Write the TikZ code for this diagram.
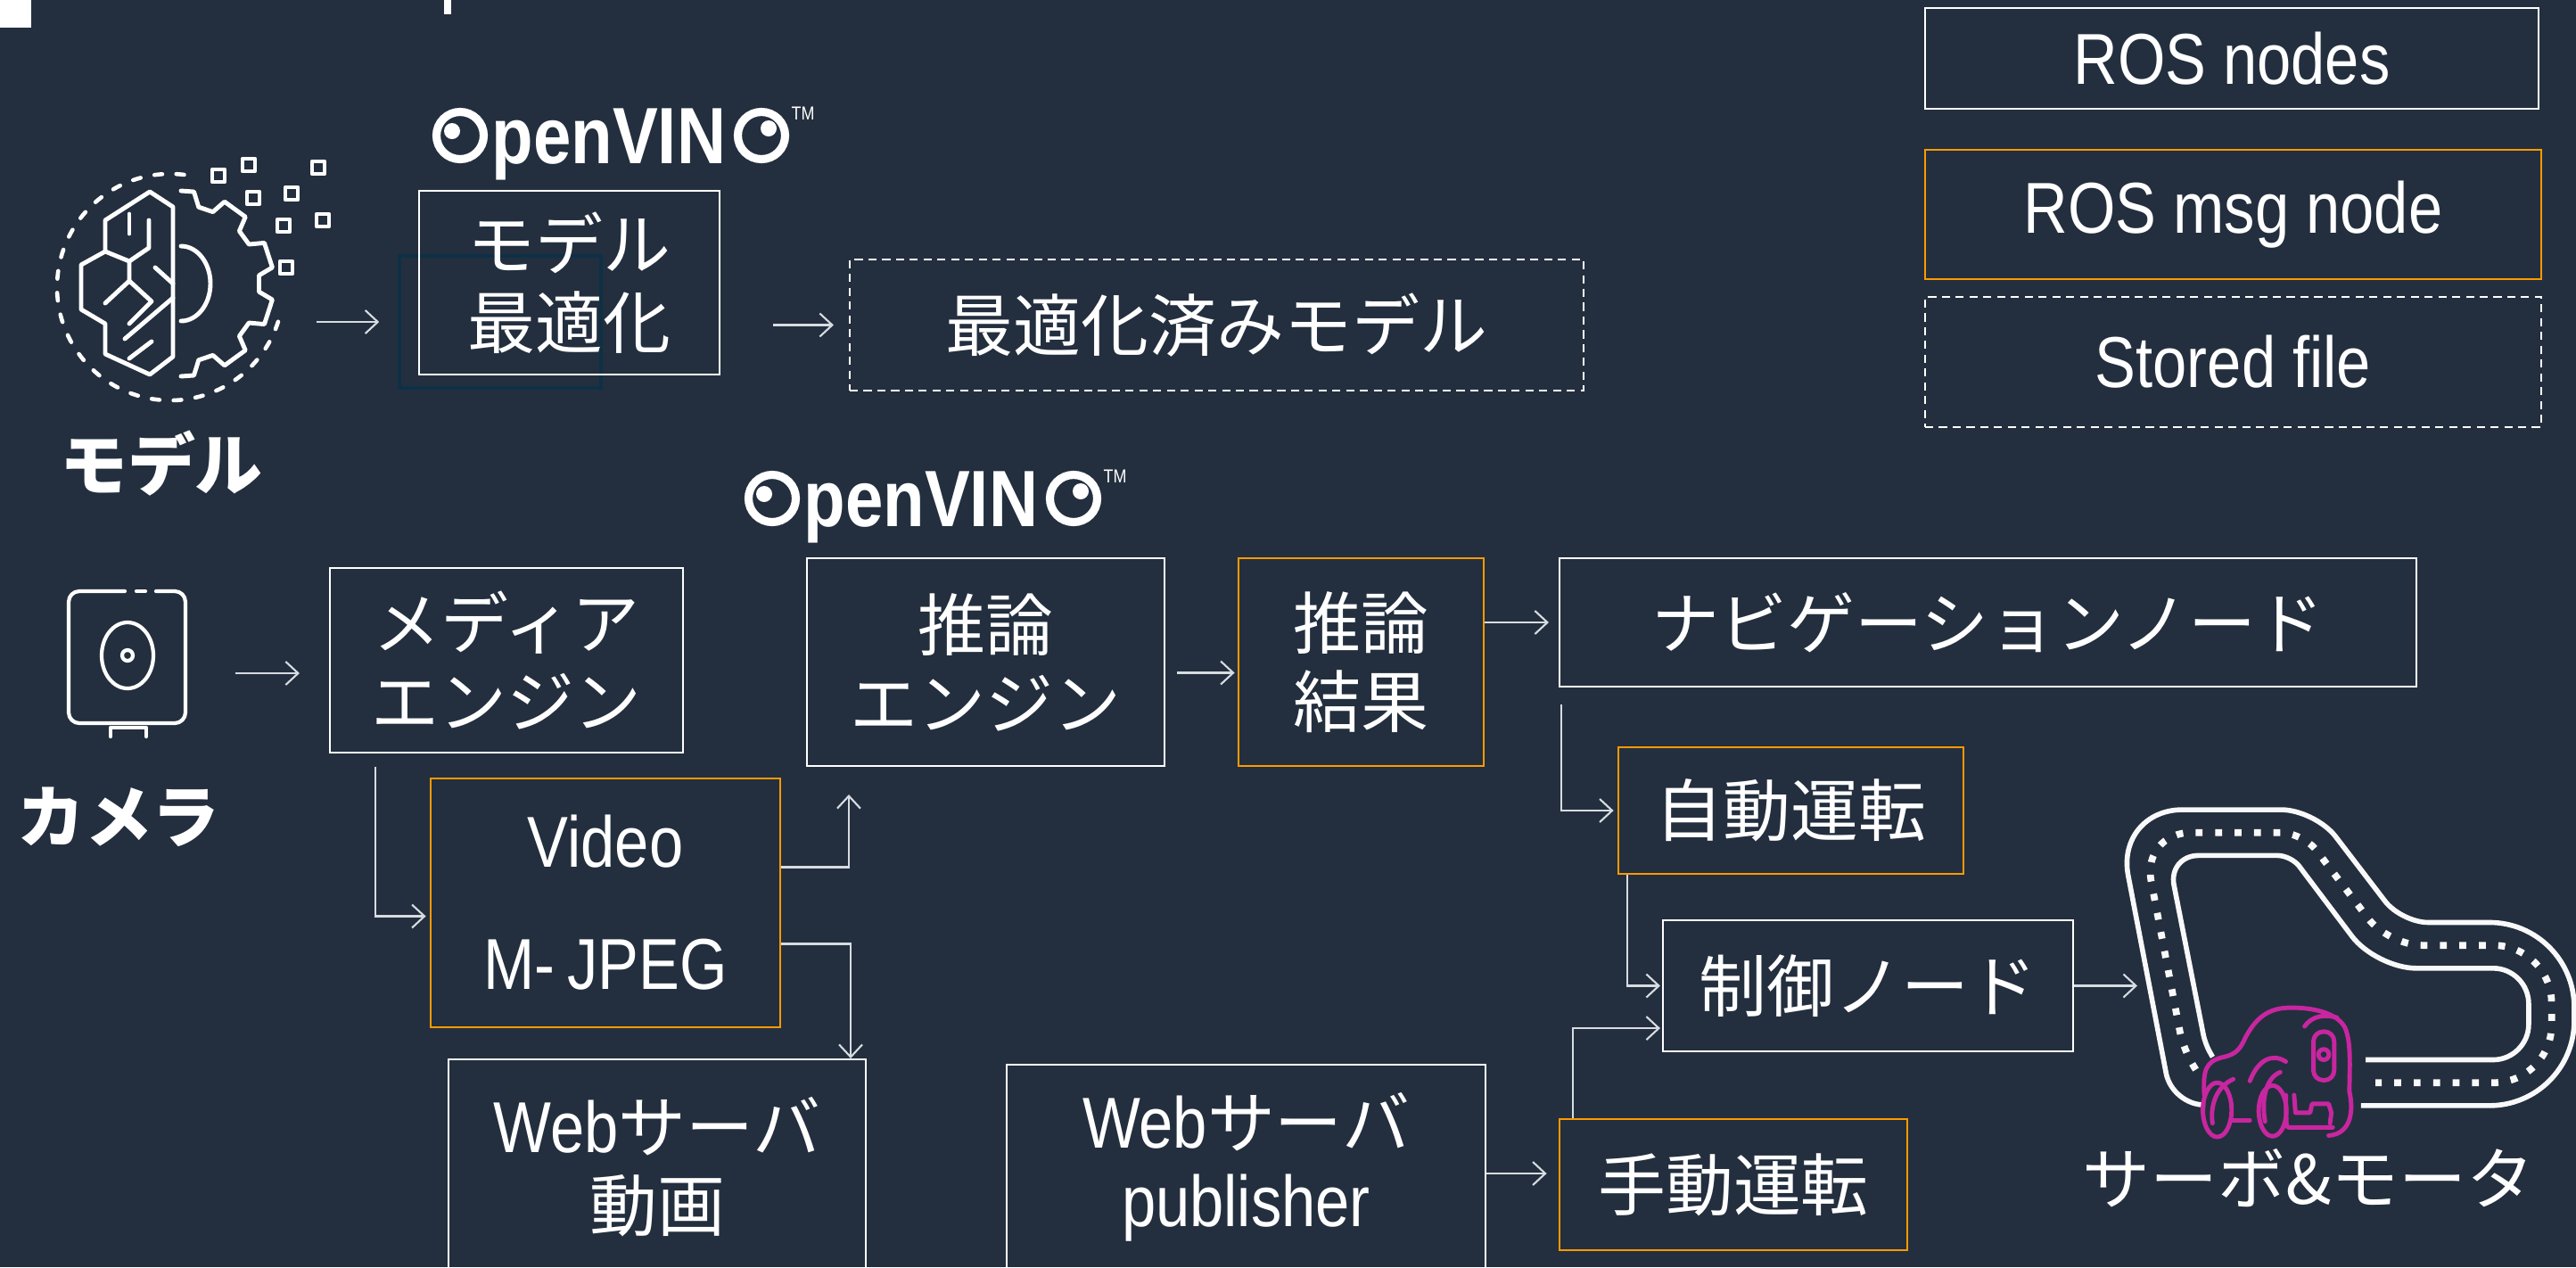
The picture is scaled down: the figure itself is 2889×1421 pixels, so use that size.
\documentclass[tikz,border=0pt]{standalone}
\usepackage{fontspec}
\setmainfont{Noto Sans CJK JP}
\newfontfamily\lat[FakeStretch=0.85]{Liberation Sans}
\usetikzlibrary{arrows.meta, positioning, calc}
\definecolor{squidink}{RGB}{35,47,62}
\definecolor{awsorange}{RGB}{255,153,0}
\definecolor{racerpink}{RGB}{200,38,160}
\definecolor{ghostblue}{RGB}{14,48,70}
\definecolor{linkgray}{RGB}{215,220,226}

% OpenVINO word mark, origin at the middle of the first O
\tikzset{vino/.pic={
  \draw[white, line width=2.6pt] (31,0) circle[radius=26.5];
  \fill[white] (22,-5) circle[radius=9];
  \node[anchor=base west, inner sep=0, text=white, font=\lat\bfseries\fontsize{25.5}{27}\selectfont] at (66,31) {penVIN};
  \draw[white, line width=2.6pt] (369,0) circle[radius=26.5];
  \fill[white] (377,-8) circle[radius=9];
  \node[anchor=north west, inner sep=0, text=white, font=\lat\fontsize{6}{7}\selectfont] at (402,-33) {TM};
}}

\begin{document}
\begin{tikzpicture}[x=0.1mm, y=-0.1mm,
  box/.style={draw=white, line width=0.6pt, inner sep=0pt, align=center, text=white, font=\fontsize{21.6}{25}\selectfont},
  rosbox/.style={box},
  msgbox/.style={box, draw=awsorange, line width=0.8pt},
  filebox/.style={box, dash pattern=on 2.6pt off 1.8pt},
  latin/.style={font=\lat\fontsize{23}{27}\selectfont},
  link/.style={draw=linkgray, line width=0.6pt, -{Straight Barb[length=1.4mm, width=2.6mm]}},
  icon/.style={draw=white, line width=1.4pt, line join=round, line cap=round},
  road/.style={draw=white!95!gray, line width=1.6pt},
  car/.style={draw=racerpink, line width=1.4pt, line cap=round, line join=round},
  caption/.style={text=white, font=\bfseries\fontsize{21.6}{25}\selectfont}
]

\fill[squidink] (0,0) rectangle (2889,1421);
\useasboundingbox (0,0) rectangle (2889,1421);
\clip (0,0) rectangle (2889,1421);

% heading remains
\fill[white] (0,0) rectangle (35,31);
\fill[white] (498,0) rectangle (506,16);

% legend
\node[rosbox, latin, minimum width=68.8mm, minimum height=11.3mm] (legnode) at (2503,65.5) {ROS nodes};
\node[msgbox, latin, minimum width=69.1mm, minimum height=14.5mm] (legmsg) at (2504.5,240.5) {ROS msg node};
\node[filebox, latin, minimum width=69.1mm, minimum height=14.6mm] (legfile) at (2504.5,406) {Stored file};

% model icon: brain and gear
\node[minimum size=25mm, inner sep=0] (brain) at (199,317) {};
\draw[icon, line width=1.3pt, dash pattern=on 2.5pt off 4.5pt] (191,322) ++(-83:127) arc[start angle=-83, end angle=-349, radius=127];
\foreach \p in {(245,197),(279,185),(357,188),(284,222),(327,217),(318,253),(362,247),(321,300)}
  \draw[icon, line width=1.2pt] \p ++(-7,-7) rectangle ++(14,14);
\draw[icon] (194,232) -- (168,215) -- (118,247) -- (118,282) -- (91,297) -- (91,347) -- (118,363) -- (118,397) -- (168,420) -- (194,400) -- cycle;
\draw[icon] (145,240) -- (145,262);
\draw[icon] (167,247) -- (167,278) -- (145,293) -- (118,282);
\draw[icon] (145,293) -- (145,315) -- (118,340);
\draw[icon] (174,300) -- (194,318);
\draw[icon] (145,315) -- (170,338) -- (145,363);
\draw[icon] (140,380) -- (194,334);
\draw[icon] (145,402) -- (170,383);
\begin{scope}[shift={(203,318)}]
  \draw[icon] (-90:104) -- (-82:104) -- (-77:88)
    \foreach \c in {-54,-18,18,54} { -- (\c-12:88) -- (\c-8:104) -- (\c+8:104) -- (\c+12:88) }
    -- (77:88) -- (82:104) -- (90:104);
  \draw[icon] (0,-42) arc[start angle=-90, end angle=90, x radius=33, y radius=42];
\end{scope}
\node[caption] (modellbl) at (181,520) {モデル};

% camera icon
\node[minimum width=13.1mm, minimum height=14.8mm, inner sep=0] (cam) at (142.5,737) {};
\draw[icon, line width=1.2pt, rounded corners=1.2mm] (140,663) -- (77,663) -- (77,811) -- (208,811) -- (208,663) -- (175,663);
\draw[icon, line width=1.2pt] (153,663) -- (163,663);
\draw[icon, line width=1.2pt] (143,735) ellipse[x radius=29, y radius=37];
\draw[icon, line width=1.2pt] (143,735) circle[radius=6];
\draw[icon, line width=1.2pt] (124,826) -- (124,816) -- (164,816) -- (164,826);
\node[caption] (camlbl) at (133,916) {カメラ};

% OpenVINO marks
\pic at (485,152) {vino};
\pic at (835,559) {vino};

% model optimisation
\node[draw=ghostblue, line width=1pt, minimum width=22.6mm, minimum height=14.8mm, inner sep=0] (ghost) at (561,361) {};
\node[rosbox, minimum width=33.7mm, minimum height=20.6mm] (mopt) at (638.5,317) {モデル\\最適化};
\node[filebox, minimum width=82.3mm, minimum height=14.7mm] (optmodel) at (1364.5,364.5) {最適化済みモデル};

% ROS nodes
\node[rosbox, minimum width=39.6mm, minimum height=20.7mm] (media) at (568,740.5) {メディア\\エンジン};
\node[rosbox, minimum width=40.1mm, minimum height=23.3mm] (infer) at (1105.5,742.5) {推論\\エンジン};
\node[msgbox, minimum width=27.5mm, minimum height=23.3mm] (result) at (1526.5,742.5) {推論\\結果};
\node[rosbox, minimum width=96.1mm, minimum height=14.4mm] (navi) at (2229.5,698) {ナビゲーションノード};
\node[msgbox, latin, minimum width=39.2mm, minimum height=27.9mm] (video) at (679,1012.5) {Video\\[12pt]M-\,JPEG};
\node[rosbox, minimum width=46.8mm, minimum height=24.2mm] (webvid) at (737,1309) {{\lat\fontsize{23}{25}\selectfont Web}サーバ\\動画};
\node[rosbox, minimum width=53.7mm, minimum height=23mm] (pub) at (1397.5,1309) {{\lat\fontsize{23}{25}\selectfont Web}サーバ\\{\lat\fontsize{23}{25}\selectfont publisher}};
\node[msgbox, minimum width=38.7mm, minimum height=14.2mm] (auto) at (2008.5,909) {自動運転};
\node[rosbox, minimum width=46mm, minimum height=14.7mm] (ctrl) at (2095,1105.5) {制御ノード};
\node[msgbox, minimum width=39mm, minimum height=14.7mm] (manual) at (1944,1328.5) {手動運転};
\node[box, draw=none] (servo) at (2589,1321) {サーボ\&モータ};
\coordinate (trackin) at (2397,1105.5);

% connectors
\draw[link, shorten <=3mm, shorten >=2.1mm] (brain.east |- ghost.west) -- (ghost.west);
\draw[link, shorten <=5.9mm, shorten >=1.7mm] (mopt.east |- optmodel.west) -- (optmodel.west);
\draw[link, shorten <=5.5mm, shorten >=3.3mm] ($(cam.east)+(0,18)$) -- ($(cam.east -| media.west)+(0,18)$);
\draw[link, shorten <=1.3mm, shorten >=0.3mm] ($(infer.east)+(0,12)$) -- ($(result.west)+(0,12)$);
\draw[link, shorten >=1.1mm] (result.east |- navi.west) -- (navi.west);
\draw[link, shorten >=0.4mm] ($(navi.south west)+(3,19)$) |- (auto.west);
\draw[link, shorten >=0.2mm] ($(auto.south west)+(11,0)$) |- (ctrl.west);
\draw[link, shorten >=0.2mm] ($(manual.north west)+(16,0)$) |- ($(ctrl.south west)+(0,-27)$);
\draw[link] (ctrl.east) -- (trackin);
\draw[link, shorten >=1.3mm] ($(pub.east)+(0,7)$) -- ($(pub.east -| manual.west)+(0,7)$);
\draw[link, shorten >=0.4mm] ($(media.south west)+(52,15)$) |- ($(video.west)+(0,15)$);
\draw[link] ($(video.east)+(0,-40)$) -| ($(infer.south west)+(48,31)$);
\draw[link] ($(video.east)+(0,46)$) -| ($(webvid.north east)+(-18,0)$);

% race track
\begin{scope}[shift={(2299.3,833)}, x=0.0378mm, y=-0.0395mm]
  \draw[road] (460,1028) [rounded corners=3.6mm] -- (362,1028) [rounded corners=7.5mm] -- (194,190)
    [rounded corners=3.8mm] -- (786,190) [rounded corners=3mm] -- (1042,510)
    [rounded corners=9.5mm] -- (1555,510) -- (1555,1030) -- (922,1030);
  \draw[road] (482,892) [rounded corners=1mm] -- (460,855) [rounded corners=3.4mm] -- (350,320)
    [rounded corners=1.5mm] -- (715,320) [rounded corners=4.5mm] -- (967,640)
    [rounded corners=4mm] -- (1420,640) -- (1420,900) -- (936,900);
  \draw[road, line width=2.2pt, dash pattern=on 2.2pt off 4pt] (432,928) [rounded corners=2mm] -- (395,870)
    [rounded corners=5.5mm] -- (272,255) [rounded corners=2.5mm] -- (750,255)
    [rounded corners=3.8mm] -- (1004,575) [rounded corners=6.5mm] -- (1488,575) -- (1488,965) -- (965,965);
\end{scope}

% car
\begin{scope}[shift={(2318.6,833)}, x=0.031mm, y=-0.0395mm]
  \draw[car] (495,1000) .. controls (490,930) and (500,905) .. (560,893)
    .. controls (610,885) and (625,870) .. (645,835)
    .. controls (690,770) and (740,752) .. (810,752)
    .. controls (900,752) and (980,770) .. (1005,810)
    .. controls (1025,850) and (1022,900) .. (1020,990)
    .. controls (1035,1040) and (1030,1110) .. (945,1115);
  \draw[car] (542,1042) ellipse[x radius=52, y radius=77];
  \draw[car] (600,955) .. controls (540,975) and (515,1030) .. (525,1080);
  \draw[car] (742,1045) ellipse[x radius=50, y radius=72];
  \draw[car] (770,935) .. controls (720,950) and (700,1010) .. (715,1075);
  \draw[car] (660,960) .. controls (690,900) and (740,880) .. (790,905);
  \draw[car] (590,1072) -- (660,1072);
  \draw[car, rounded corners=1.1mm] (890,820) rectangle (965,958);
  \draw[car] (927,885) ellipse[x radius=19, y radius=15];
  \draw[car] (858,805) .. controls (885,775) and (930,770) .. (975,780);
  \draw[car] (820,1000) -- (825,1050) -- (878,1050) -- (885,1025) -- (945,1025) -- (955,1050) -- (950,1080);
  \draw[car] (790,1000) -- (792,1080) .. controls (795,1092) .. (810,1092) -- (960,1092);
\end{scope}

\end{tikzpicture}
\end{document}
